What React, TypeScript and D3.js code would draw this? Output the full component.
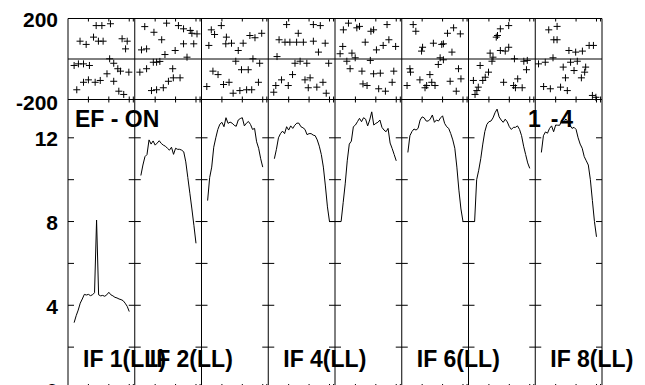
import React from "react";
import * as d3 from "d3";

const W = 645;
const H = 385;

// ---- data ----
const channels = d3.range(3, 31); // channels 3..30
const xTickValues = [10, 20, 30, 32];
const ampTickValues = [2, 4, 6, 8, 10, 12];
const ampLabelValues = [0, 4, 8, 12];
const phaseLabelValues = [200, -200];
const panelLabels = ["IF 1(LL)", "IF 2(LL)", "", "IF 4(LL)", "", "IF 6(LL)", "", "IF 8(LL)"];
const titleLeft = "EF - ON";
const titleRight = "1 -4";

const amp1 = [3.17, 3.5, 3.77, 4.1, 4.3, 4.52, 4.49, 4.52, 4.46, 4.5, 4.6, 8.07, 4.5, 4.45, 4.47, 4.43, 4.5, 4.62, 4.5, 4.45, 4.38, 4.35, 4.3, 4.27, 4.22, 4.1, 3.95, 3.7];
const amp2 = [10.2, 10.7, 11.1, 11.2, 11.9, 11.7, 11.85, 11.65, 11.75, 11.86, 11.73, 11.65, 11.6, 11.5, 11.41, 11.55, 11.21, 11.5, 11.45, 11.45, 11.41, 11.33, 10.85, 10.1, 9.35, 8.6, 7.8, 6.96];
const amp3 = [9.0, 10.1, 10.6, 11.55, 12.0, 12.4, 12.65, 12.74, 12.53, 12.96, 12.69, 12.75, 12.7, 12.6, 12.55, 12.85, 12.92, 12.96, 12.57, 12.7, 12.78, 12.64, 12.4, 12.45, 11.81, 11.5, 11.0, 10.6];
const amp4 = [11.0, 11.45, 12.0, 12.2, 12.32, 12.2, 12.53, 12.37, 12.57, 12.45, 12.6, 12.7, 12.7, 12.53, 12.48, 12.4, 12.15, 12.2, 12.2, 12.13, 12.1, 11.9, 11.6, 11.2, 10.6, 9.7, 8.7, 8.0];
const amp5 = [8.0, 8.9, 9.8, 10.9, 11.7, 11.84, 12.53, 12.61, 12.77, 12.93, 12.77, 12.96, 12.89, 12.57, 12.85, 13.24, 12.61, 12.69, 12.74, 12.85, 12.5, 12.37, 12.29, 12.45, 11.75, 11.49, 11.2, 10.9];
const amp6 = [11.3, 12.1, 12.3, 12.42, 12.37, 12.45, 12.85, 13.0, 12.95, 12.8, 12.8, 12.9, 13.09, 12.74, 12.85, 12.8, 12.95, 13.05, 12.69, 12.53, 12.45, 12.2, 11.9, 11.5, 10.6, 9.5, 8.6, 8.0];
const amp7 = [8.0, 10.0, 10.45, 11.0, 11.7, 12.3, 12.64, 12.77, 12.8, 12.95, 13.2, 13.37, 13.0, 12.85, 12.74, 12.89, 12.76, 12.53, 12.4, 12.5, 12.5, 12.57, 12.4, 12.1, 11.6, 11.2, 10.8, 10.54];
const amp8 = [11.3, 12.1, 12.28, 12.22, 12.45, 12.57, 12.29, 12.61, 12.6, 12.6, 12.85, 12.74, 12.9, 12.77, 12.6, 12.45, 12.5, 12.4, 12.0, 11.7, 11.5, 11.1, 10.9, 10.7, 10.0, 9.0, 8.0, 7.27];
const amplitudes = [amp1, amp2, amp3, amp4, amp5, amp6, amp7, amp8];

// panel pairs whose lines are joined across the divider
const bridges = [[3, 4], [5, 6]];

const phase1 = [[13.8, 165], [16.6, 165], [20.8, 174], [5.9, 88], [8.9, 72], [12.5, 108], [14.9, 88], [17.2, 88], [26.5, 100], [29.0, 88], [28.2, 50], [3.0, -32], [5.1, -24], [7.6, -24], [10.5, -32], [20.4, 1], [22.4, -21], [24.4, -48], [25.7, -60], [29.8, -65], [19.1, -73], [15.8, -106], [13.3, -115], [10.0, -103], [7.6, -115], [4.3, -152], [22.4, -110], [24.9, -159], [27.3, -175]];
const phase2 = [[4.9, 160], [9.4, 132], [13.2, 95], [15.6, 177], [21.4, 165], [23.9, 149], [27.2, 141], [28.0, 127], [30.5, 124], [3.3, 45], [5.8, 50], [19.8, 42], [23.9, 75], [28.9, 75], [25.6, 9], [14.8, 22], [10.7, -16], [9.1, -16], [5.8, -48], [2.5, -65], [18.6, -48], [18.9, -93], [22.2, -93], [16.5, -110], [14.0, -142], [10.7, -152], [8.2, -156], [12.3, -12]];
const phase3 = [[4.8, 144], [6.4, 121], [9.7, 165], [3.6, 67], [12.2, 108], [11.9, 75], [14.7, 78], [18.0, 42], [20.4, 78], [23.7, 116], [26.2, 105], [29.5, 127], [16.8, -11], [25.2, 1], [28.5, -21], [5.6, -60], [8.1, -77], [2.6, -136], [10.8, -126], [13.5, -115], [15.5, -169], [18.8, -156], [22.1, -152], [24.6, -152], [27.9, -115], [19.6, -53], [22.9, -53]];
const phase4 = [[9.0, 170], [14.7, 127], [22.1, 170], [25.5, 165], [5.3, 95], [8.2, 83], [10.6, 83], [13.9, 83], [17.2, 83], [22.1, 88], [27.9, 78], [24.6, 34], [4.3, 12], [13.1, -21], [15.6, -11], [18.9, -21], [29.6, -21], [11.9, -77], [6.5, -103], [3.7, -131], [2.7, -164], [9.8, -131], [18.0, -103], [20.5, -93], [26.8, -115], [19.6, -142], [23.8, -139], [28.4, -169]];
const phase5 = [[6.6, 177], [4.1, 144], [10.7, 154], [12.0, 161], [17.6, 137], [18.9, 144], [25.5, 170], [14.8, 83], [3.8, 62], [2.5, 26], [8.3, 29], [9.9, 6], [5.8, -11], [17.3, -7], [20.3, 45], [23.6, 67], [26.4, 95], [29.7, 62], [7.4, -48], [13.2, -60], [18.9, -73], [22.2, -70], [28.8, -60], [13.7, -123], [15.7, -131], [21.4, -147], [24.7, -159], [28.0, -115]];
const phase6 = [[5.6, 170], [6.9, 137], [10.2, 58], [9.7, 39], [15.5, 78], [19.6, 72], [20.4, 75], [24.6, 34], [22.4, 127], [25.4, 154], [28.7, 124], [18.8, 6], [20.4, -4], [17.9, -27], [27.8, -48], [4.0, -48], [4.3, -65], [8.9, -103], [13.8, -77], [14.7, -115], [11.4, -142], [12.2, -131], [16.3, -131], [23.7, -110], [29.0, -98], [26.7, -159], [2.6, -131]];
const phase7 = [[19.7, 165], [15.6, 149], [14.2, 116], [13.6, 108], [19.7, 58], [15.6, 42], [18.0, 39], [10.6, 29], [12.0, 9], [11.5, -11], [22.5, 1], [27.1, -11], [28.8, -7], [28.4, -53], [5.7, -32], [9.8, -65], [8.2, -90], [7.0, -106], [4.8, -139], [4.1, -156], [3.2, -175], [2.4, -106], [17.2, -115], [22.1, -131], [24.1, -98], [26.3, -142], [23.0, -142]];
const phase8 = [[6.6, 144], [10.7, 161], [9.1, 95], [10.7, 95], [16.5, 42], [19.8, 34], [23.1, 39], [26.4, 67], [28.5, 67], [1.6, -24], [4.9, -16], [8.7, 6], [13.7, -40], [17.3, -16], [20.6, -11], [19.0, -57], [24.7, -40], [24.2, -65], [22.6, -93], [14.8, -93], [4.1, -136], [7.4, -147], [12.4, -139], [15.7, -156], [28.0, -180], [29.7, -189]];
const phases = [phase1, phase2, phase3, phase4, phase5, phase6, phase7, phase8];

// ---- layout ----
const left = 68;
const right = 602;
const phTop = 18.5;
const phBottom = 99.5;
const ampBottom = 389;
const nPanels = 8;
const panelW = (right - left) / nPanels;

const yPh = d3.scaleLinear().domain([-200, 200]).range([phBottom, phTop]);
const yAmp = d3.scaleLinear().domain([0, 13.83]).range([ampBottom, phBottom]);
const panelX = (i: number) => d3.scaleLinear().domain([0, 32.7]).range([left + i * panelW, left + (i + 1) * panelW]);

const font = "'Liberation Sans', Arial, Helvetica, sans-serif";

export default function App() {
  const line = d3.line<number>();
  const panels = d3.range(nPanels);
  return (
    <div style={{ position: "absolute", left: 0, top: 0 }}>
      <svg width={W} height={H} style={{ display: "block", background: "#fff" }}>
        <rect x={0} y={0} width={W} height={H} fill="#fff" />
        {/* frames */}
        <g stroke="#000" strokeWidth={1} fill="none">
          <line x1={left} x2={right} y1={phTop} y2={phTop} />
          <line x1={left} x2={right} y1={yPh(0)} y2={yPh(0)} />
          <line x1={left} x2={right} y1={phBottom} y2={phBottom} />
          <line x1={left} x2={right} y1={ampBottom} y2={ampBottom} />
          {d3.range(nPanels + 1).map((i) => (
            <line key={"d" + i} x1={left + i * panelW} x2={left + i * panelW} y1={phTop} y2={ampBottom} />
          ))}
        </g>
        {/* x ticks */}
        <g stroke="#000" strokeWidth={1}>
          {panels.map((i) => {
            const x = panelX(i);
            return xTickValues.map((t) => (
              <g key={`xt${i}-${t}`}>
                <line x1={x(t)} x2={x(t)} y1={phTop} y2={phTop + 3} />
                <line x1={x(t)} x2={x(t)} y1={phBottom - 3} y2={phBottom + 3} />
                <line x1={x(t)} x2={x(t)} y1={ampBottom} y2={ampBottom - 5} />
              </g>
            ));
          })}
        </g>
        {/* y ticks amplitude */}
        <g stroke="#000" strokeWidth={1}>
          {ampTickValues.map((v) =>
            d3.range(nPanels + 1).map((i) => {
              const xd = left + i * panelW;
              const x1 = i === 0 ? xd : xd - 6;
              const x2 = i === nPanels ? xd : xd + 6;
              return <line key={`yt${v}-${i}`} x1={x1} x2={x2} y1={yAmp(v)} y2={yAmp(v)} />;
            })
          )}
        </g>
        {/* phase scatter */}
        <g stroke="#000" strokeWidth={1} fill="none">
          {phases.map((pts, i) => {
            const x = panelX(i);
            return pts.map(([c, p], k) => {
              const cx = x(c);
              const cy = yPh(p);
              return (
                <path key={`p${i}-${k}`} d={`M${cx - 3.5},${cy}H${cx + 3.5}M${cx},${cy - 3.5}V${cy + 3.5}`} />
              );
            });
          })}
        </g>
        {/* amplitude lines */}
        <g stroke="#000" strokeWidth={1} fill="none" strokeLinejoin="round">
          {amplitudes.map((vals, i) => {
            const x = panelX(i);
            const pts = vals.map((v, k) => [x(channels[k]), yAmp(v)] as [number, number]);
            return <path key={"a" + i} d={d3.line()(pts) || ""} />;
          })}
          {bridges.map(([a, b]) => {
            const xa = panelX(a);
            const xb = panelX(b);
            const va = amplitudes[a];
            const vb = amplitudes[b];
            const pts: [number, number][] = [
              [xa(channels[channels.length - 1]), yAmp(va[va.length - 1])],
              [xb(channels[0]), yAmp(vb[0])],
            ];
            return <path key={`b${a}`} d={d3.line()(pts) || ""} />;
          })}
        </g>
        {/* labels */}
        <g fontFamily={font} fontWeight="bold" fill="#000">
          {phaseLabelValues.map((v) => (
            <text key={"pl" + v} x={58} y={yPh(v) + (v > 0 ? 8.5 : 10.5)} fontSize={21} textAnchor="end">
              {String(v)}
            </text>
          ))}
          {ampLabelValues.map((v) => (
            <text key={"al" + v} x={58} y={yAmp(v) + 8.5} fontSize={21} textAnchor="end">
              {String(v)}
            </text>
          ))}
          <text x={75} y={127} fontSize={23}>{titleLeft}</text>
          <text x={528} y={127} fontSize={23} textLength={45} lengthAdjust="spacing">{titleRight}</text>
          {panelLabels.map((lab, i) =>
            lab ? (
              <text key={"lab" + i} x={left + i * panelW + 15} y={367} fontSize={23}>
                {lab}
              </text>
            ) : null
          )}
        </g>
      </svg>
    </div>
  );
}
